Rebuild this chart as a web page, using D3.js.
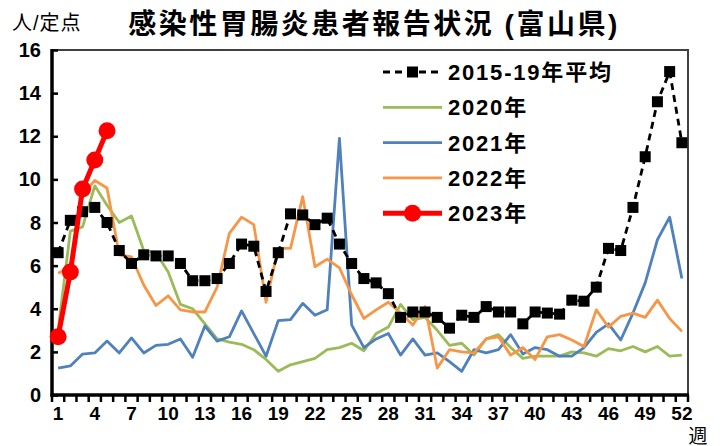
<!DOCTYPE html>
<html>
<head>
<meta charset="utf-8">
<script src="https://cdn.jsdelivr.net/npm/d3@7"></script>
<style>
body { margin:0; background:#fff; }
text { font-family: "Liberation Sans", Arial, "Noto Sans CJK JP", sans-serif; }
</style>
</head>
<body>
<div id="chart-area"></div>
<script>
// 週 1..52
var weeks = d3.range(1, 53);
var tickWeeks = [1,4,7,10,13,16,19,22,25,28,31,34,37,40,43,46,49,52];
var yTicks = [0,2,4,6,8,10,12,14,16];

var avg1519 = [6.6,8.1,8.5,8.7,8.0,6.7,6.1,6.5,6.45,6.45,6.1,5.3,5.3,5.4,6.1,7.0,6.9,4.8,6.6,8.4,8.35,7.9,8.2,7.0,6.1,5.4,
	5.2,4.7,3.6,3.85,3.85,3.6,3.1,3.7,3.6,4.1,3.85,3.85,3.3,3.85,3.8,3.75,4.4,4.35,5.0,6.8,6.7,8.7,11.05,13.6,15.0,11.7];
var y2020 = [3.0,7.6,7.8,9.7,8.8,8.0,8.3,6.7,6.6,5.7,4.2,4.0,3.3,2.6,2.45,2.35,2.1,1.65,1.1,1.4,1.55,1.7,2.1,2.2,2.4,2.05,
	2.85,3.15,4.2,3.5,3.6,3.0,2.3,2.4,1.85,2.6,2.8,2.2,1.7,1.8,1.8,1.8,2.0,1.95,1.8,2.15,2.05,2.25,2.0,2.25,1.8,1.85];
var y2021 = [1.25,1.35,1.9,1.95,2.5,1.95,2.65,1.95,2.3,2.35,2.6,1.75,3.2,2.5,2.7,3.9,2.85,1.8,3.45,3.5,4.25,3.7,3.95,11.9,3.25,2.2,
	2.6,2.85,1.85,2.6,1.85,1.95,1.55,1.1,2.1,1.95,2.1,2.8,1.9,2.2,2.1,1.8,1.8,2.2,2.9,3.3,2.55,3.8,5.2,7.2,8.25,5.4];
var y2022 = [5.65,5.95,9.3,9.95,9.6,6.5,6.4,5.1,4.15,4.6,3.95,3.85,3.85,5.0,7.5,8.25,7.9,4.3,6.8,6.8,9.2,5.95,6.3,5.9,4.65,3.55,
	3.95,4.3,3.8,3.25,4.1,1.25,2.1,2.0,1.95,2.6,2.7,1.85,2.2,1.65,2.7,2.8,2.55,2.25,3.95,3.15,3.65,3.8,3.6,4.4,3.55,2.95];
var y2023 = [2.7,5.7,9.55,10.9,12.25];

var seriesNames = ["2015-19年平均","2020年","2021年","2022年","2023年"];
var colors = ["#000000","#9bbb59","#4f81bd","#f79646","#ff0000"];

var W = 721, H = 446;
var svg = d3.select("#chart-area").append("svg")
	.attr("width", W).attr("height", H);

var x = d3.scaleBand().domain(weeks).range([52, 688]);
var y = d3.scaleLinear().domain([0, 16]).range([395, 50]);
var cx = function(w){ return x(w) + x.bandwidth()/2; };

// plot frame
svg.append("rect")
	.attr("x", 52).attr("y", 50)
	.attr("width", 636).attr("height", 345)
	.attr("fill", "none").attr("stroke", "#404040").attr("stroke-width", 2);

// y axis
var yAxis = svg.append("g")
	.attr("transform", "translate(52,0)")
	.call(d3.axisRight(y).tickValues(yTicks).tickSize(6).tickFormat(""));
yAxis.select(".domain").remove();
yAxis.selectAll("line").attr("stroke", "#000").attr("stroke-width", 2.5);
svg.selectAll(".ylab").data(yTicks).enter().append("text")
	.attr("class", "ylab")
	.attr("x", 41).attr("y", function(d){ return y(d) + 7; })
	.attr("text-anchor", "end")
	.attr("font-size", "20px").attr("font-weight", "bold")
	.text(function(d){ return d; });

// x axis ticks on category boundaries
var bounds = d3.range(0, 53).map(function(i){ return 52 + i * x.step(); });
svg.selectAll(".xtick").data(bounds).enter().append("line")
	.attr("x1", function(d){ return d; }).attr("x2", function(d){ return d; })
	.attr("y1", 395).attr("y2", 402)
	.attr("stroke", "#000").attr("stroke-width", 2.5);
svg.selectAll(".xlab").data(tickWeeks).enter().append("text")
	.attr("class", "xlab")
	.attr("x", function(d){ return cx(d); }).attr("y", 420)
	.attr("text-anchor", "middle")
	.attr("font-size", "19px").attr("font-weight", "bold")
	.text(function(d){ return d; });

// heavy left / bottom axis lines
svg.append("line").attr("x1", 52).attr("x2", 52).attr("y1", 49).attr("y2", 396.5)
	.attr("stroke", "#000").attr("stroke-width", 3.5);
svg.append("line").attr("x1", 50.5).attr("x2", 689).attr("y1", 395).attr("y2", 395)
	.attr("stroke", "#000").attr("stroke-width", 3.5);

var line = d3.line()
	.x(function(d, i){ return cx(weeks[i]); })
	.y(function(d){ return y(d); });

function drawLine(data, color, width){
	svg.append("path").datum(data)
		.attr("fill", "none").attr("stroke", color)
		.attr("stroke-width", width).attr("stroke-linejoin", "round")
		.attr("d", line);
}

drawLine(y2020, colors[1], 2.8);
drawLine(y2021, colors[2], 2.8);
drawLine(y2022, colors[3], 2.8);

// 2015-19 average: dashed with squares
svg.append("path").datum(avg1519)
	.attr("fill", "none").attr("stroke", "#000")
	.attr("stroke-width", 2.8).attr("stroke-dasharray", "7,5")
	.attr("d", line);
svg.selectAll(".sq").data(avg1519).enter().append("rect")
	.attr("class", "sq")
	.attr("x", function(d, i){ return cx(weeks[i]) - 5.5; })
	.attr("y", function(d){ return y(d) - 5.5; })
	.attr("width", 11).attr("height", 11)
	.attr("fill", "#000");

// 2023
drawLine(y2023, colors[4], 5);
svg.selectAll(".dot").data(y2023).enter().append("circle")
	.attr("class", "dot")
	.attr("cx", function(d, i){ return cx(weeks[i]); })
	.attr("cy", function(d){ return y(d); })
	.attr("r", 8.5).attr("fill", colors[4]);

// legend
var lg = svg.selectAll(".lg").data(seriesNames).enter().append("g")
	.attr("class", "lg")
	.attr("transform", function(d, i){ return "translate(383," + (72 + i * 35.3) + ")"; });
lg.append("line")
	.attr("x1", 0).attr("x2", 59).attr("y1", 0).attr("y2", 0)
	.attr("stroke", function(d, i){ return colors[i]; })
	.attr("stroke-width", function(d, i){ return i == 4 ? 5 : 2.8; })
	.attr("stroke-dasharray", function(d, i){ return i == 0 ? "7,5" : null; });
lg.filter(function(d, i){ return i == 0; }).append("rect")
	.attr("x", 24).attr("y", -5.5).attr("width", 11).attr("height", 11).attr("fill", "#000");
lg.filter(function(d, i){ return i == 4; }).append("circle")
	.attr("cx", 29.5).attr("cy", 0).attr("r", 8.5).attr("fill", colors[4]);
lg.append("text")
	.attr("x", 65).attr("y", 8)
	.attr("font-size", "22px").attr("font-weight", "bold")
	.attr("letter-spacing", "1.8px")
	.text(function(d){ return d; });

// titles
svg.append("text")
	.attr("x", 12).attr("y", 30)
	.attr("font-size", "20px").attr("letter-spacing", "1px")
	.text("人/定点");
svg.append("text")
	.attr("x", 374).attr("y", 34)
	.attr("text-anchor", "middle")
	.attr("font-size", "28px").attr("font-weight", "bold")
	.attr("letter-spacing", "2.5px")
	.text("感染性胃腸炎患者報告状況 (富山県)");
svg.append("text")
	.attr("x", 698).attr("y", 443)
	.attr("text-anchor", "middle")
	.attr("font-size", "19px")
	.text("週");
</script>
</body>
</html>
